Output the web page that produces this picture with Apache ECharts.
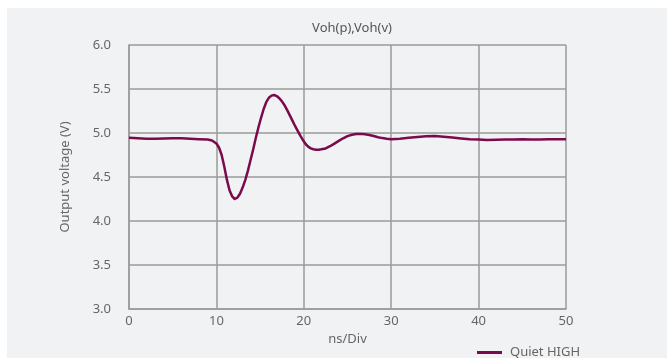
<!DOCTYPE html>
<html>
<head>
<meta charset="utf-8">
<script src="https://cdn.jsdelivr.net/npm/echarts@6/dist/echarts.min.js"></script>
<style>
html,body{margin:0;padding:0;background:#ffffff;}
#bg{position:absolute;left:7px;top:8px;width:660px;height:350px;background:#f1f2f4;}
#chart{position:absolute;left:0;top:0;width:667px;height:358px;}
</style>
</head>
<body>
<div id="bg"></div>
<div id="chart"></div>
<script>
var chartTitle = 'Voh(p),Voh(v)';
var seriesName = 'Quiet HIGH';
var xTicks = [0, 10, 20, 30, 40, 50];
var yTicks = [3.0, 3.5, 4.0, 4.5, 5.0, 5.5, 6.0];
var times = [0,1,2,3,4,5,6,7,8,9,9.5,10,10.3,10.6,10.9,11.2,11.5,11.8,12.1,12.4,12.7,13.0,13.3,13.6,13.9,14.2,14.5,14.8,15.1,15.4,15.7,16.0,16.3,16.6,16.9,17.2,17.5,17.8,18.1,18.4,18.7,19.0,19.3,19.6,19.9,20.2,20.5,20.8,21.1,21.4,21.7,22,22.5,23,23.5,24,24.5,25,25.5,26,26.5,27,27.5,28,28.5,29,29.5,30,31,32,33,34,35,36,37,38,39,40,41,42,43,44,45,46,47,48,49,50];
var volts = [4.945,4.94,4.935,4.935,4.937,4.94,4.94,4.935,4.93,4.925,4.915,4.88,4.835,4.75,4.62,4.47,4.35,4.28,4.25,4.265,4.31,4.38,4.465,4.57,4.69,4.81,4.94,5.06,5.17,5.27,5.35,5.40,5.425,5.432,5.42,5.395,5.36,5.315,5.26,5.20,5.14,5.08,5.025,4.97,4.92,4.875,4.845,4.825,4.815,4.81,4.81,4.815,4.825,4.85,4.88,4.91,4.94,4.965,4.98,4.988,4.99,4.985,4.978,4.965,4.952,4.942,4.935,4.93,4.935,4.945,4.955,4.962,4.965,4.957,4.948,4.938,4.93,4.925,4.92,4.922,4.925,4.927,4.928,4.925,4.927,4.93,4.928,4.93];

var data = times.map(function(t, i){ return [t, volts[i]]; });
var font = '"Noto Sans", "Open Sans", sans-serif';
var lineCol = '#7a0a4c';
var gridCol = '#9a9a9a';
var txtCol = '#666666';

var chart = echarts.init(document.getElementById('chart'), null, {renderer:'canvas'});
chart.setOption({
  animation: false,
  backgroundColor: 'transparent',
  textStyle: {fontFamily: font},
  title: {
    text: chartTitle, left: 347, top: 17, textAlign: 'center',
    textStyle: {fontSize: 13, fontWeight: 'normal', color: '#555555', fontFamily: font}
  },
  legend: {
    data: [seriesName], left: 472, top: 341,
    icon: 'rect', itemWidth: 25, itemHeight: 3,
    textStyle: {fontSize: 13, color: txtCol, fontFamily: font, padding: [0,0,0,3]}
  },
  grid: {left: 129, top: 45, right: 101, bottom: 49},
  xAxis: {
    type: 'value', min: xTicks[0], max: xTicks[xTicks.length-1], interval: 10,
    name: 'ns/Div', nameLocation: 'middle', nameGap: 23,
    nameTextStyle: {fontSize: 13, color: txtCol, fontFamily: font},
    axisLine: {show: true, lineStyle: {color: gridCol, width: 1.5}},
    axisTick: {show: false},
    axisLabel: {fontSize: 13, color: txtCol, margin: 6, fontFamily: font},
    splitLine: {show: true, lineStyle: {color: gridCol, width: 1.5}}
  },
  yAxis: {
    type: 'value', min: yTicks[0], max: yTicks[yTicks.length-1], interval: 0.5,
    name: 'Output voltage (V)', nameLocation: 'middle', nameGap: 57,
    nameTextStyle: {fontSize: 13, color: txtCol, fontFamily: font},
    axisLine: {show: true, lineStyle: {color: gridCol, width: 1.5}},
    axisTick: {show: false},
    axisLabel: {fontSize: 13, color: txtCol, margin: 18, fontFamily: font,
      formatter: function(v){ return v.toFixed(1); }},
    splitLine: {show: true, lineStyle: {color: gridCol, width: 1.5}}
  },
  series: [{
    name: seriesName, type: 'line', data: data, showSymbol: false, smooth: false,
    lineStyle: {color: lineCol, width: 2.5, join: 'round'}, itemStyle: {color: lineCol}
  }]
});
</script>
</body>
</html>
